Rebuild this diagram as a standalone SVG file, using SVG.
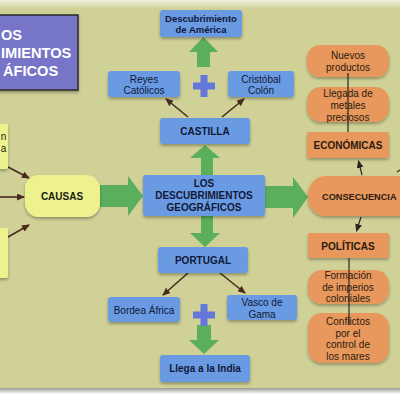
<svg xmlns="http://www.w3.org/2000/svg" width="400" height="400" viewBox="0 0 400 400">
<defs>
<linearGradient id="topfade" x1="0" y1="0" x2="0" y2="1"><stop offset="0" stop-color="#f0f1dd"/><stop offset="1" stop-color="#cfd197"/></linearGradient>
<linearGradient id="botfade" x1="0" y1="0" x2="0" y2="1"><stop offset="0" stop-color="#9a9a90"/><stop offset="1" stop-color="#ffffff"/></linearGradient>
<filter id="sh" x="-20%" y="-20%" width="140%" height="150%"><feDropShadow dx="0" dy="2" stdDeviation="1.5" flood-color="#000" flood-opacity="0.3"/></filter>
<marker id="ah" markerWidth="8" markerHeight="7" refX="7" refY="3.5" orient="auto" markerUnits="userSpaceOnUse"><path d="M0,0 L8,3.5 L0,7 Z" fill="#4a2a1c"/></marker>
<marker id="ahk" markerWidth="8" markerHeight="7" refX="7" refY="3.5" orient="auto" markerUnits="userSpaceOnUse"><path d="M0,0 L8,3.5 L0,7 Z" fill="#2a2620"/></marker>
<style>
text{font-family:"Liberation Sans",Arial,sans-serif;font-size:10px;text-anchor:middle}
.b{font-weight:bold}
.tt{fill:#fff;font-weight:bold;font-size:14.6px;text-anchor:start}
.blue{fill:#6a9be2;filter:url(#sh)}
.bt{fill:#101838}
.org{fill:#e8985c;filter:url(#sh)}
.ot{fill:#2a1a10}
.yel{fill:#eef28e;filter:url(#sh)}
.grn{fill:#5aae5c}
.plus{fill:#6478dc}
.br{stroke:#4a2a1c;stroke-width:1.6;fill:none;marker-end:url(#ah)}
.bk{stroke:#2a2620;stroke-width:1.2;fill:none}
</style>
</defs>
<rect x="0" y="0" width="400" height="400" fill="#ffffff"/>
<rect x="0" y="0" width="400" height="388" fill="#cfd197"/>
<rect x="0" y="0" width="400" height="9" fill="url(#topfade)"/>
<rect x="0" y="388" width="400" height="6" fill="url(#botfade)"/>

<g id="connectors">
<polygon class="grn" points="197,67 210,67 210,52 218,52 203.5,37 189,52 197,52"/>
<polygon class="grn" points="201,175 213,175 213,158 220,158 205,145 190,158 201,158"/>
<polygon class="grn" points="201,216 213,216 213,233 220,233 205,247 190,233 201,233"/>
<polygon class="grn" points="197,325 211,325 211,340 219,340 204,354 189,340 197,340"/>
<polygon class="grn" points="100,185 128,185 128,176 143,196 128,216 128,207 100,207"/>
<polygon class="grn" points="265,186 293,186 293,177 308,197 293,218 293,208 265,208"/>
<path class="br" d="M188,117 L166,99"/>
<path class="br" d="M222,117 L244,99"/>
<path class="br" d="M188,273 L163,295"/>
<path class="br" d="M220,273 L245,293"/>
<path class="br" d="M8,167 L29,178"/>
<path class="br" d="M0,197 L24,197"/>
<path class="br" d="M8,237 L29,225"/>
<path class="bk" d="M362,175 L358.5,161" marker-end="url(#ahk)"/>
<path class="bk" d="M361,217 L356.5,231" marker-end="url(#ahk)"/>
<path class="bk" d="M397,172 L400,170"/>
<path class="bk" d="M397,206 L400,208"/>
</g>

<g id="plus-top"><rect class="plus" x="193" y="82.5" width="22" height="7"/><rect class="plus" x="200.5" y="75" width="7" height="22"/></g>
<g id="plus-bottom"><rect class="plus" x="193" y="311.5" width="22" height="7"/><rect class="plus" x="200.5" y="304" width="7" height="22"/></g>

<g id="title">
<rect x="-2" y="15" width="80" height="75" fill="#7774c8" stroke="#2a2a2a" stroke-width="1.5" filter="url(#sh)"/>
<text class="tt" x="1" y="40">OS</text>
<text class="tt" x="1" y="58">IMIENTOS</text>
<text class="tt" x="3" y="76">ÁFICOS</text>
</g>

<g id="america"><rect class="blue" x="160" y="10" width="82" height="27" rx="3"/><text class="b bt" x="201" y="21.5" style="font-size:9.5px">Descubrimiento</text><text class="b bt" x="201" y="32.5" style="font-size:9.5px">de América</text></g>
<g id="reyes"><rect class="blue" x="108" y="71" width="72" height="26" rx="3"/><text class="bt" x="144" y="82.5">Reyes</text><text class="bt" x="144" y="93.5">Católicos</text></g>
<g id="colon"><rect class="blue" x="228" y="71" width="66" height="26" rx="3"/><text class="bt" x="261" y="82.5">Cristóbal</text><text class="bt" x="261" y="93.5">Colón</text></g>
<g id="castilla"><rect class="blue" x="160" y="118" width="90" height="26" rx="3"/><text class="b bt" x="205" y="135">CASTILLA</text></g>
<g id="descubrimientos"><rect class="blue" x="143" y="175" width="122" height="41" rx="3"/><text class="b bt" x="204" y="186.5">LOS</text><text class="b bt" x="204" y="198.5">DESCUBRIMIENTOS</text><text class="b bt" x="204" y="210.5">GEOGRÁFICOS</text></g>
<g id="portugal"><rect class="blue" x="158" y="247" width="90" height="26" rx="3"/><text class="b bt" x="203" y="264">PORTUGAL</text></g>
<g id="bordea"><rect class="blue" x="108" y="297" width="72" height="25" rx="3"/><text class="bt" x="144" y="313.5">Bordea África</text></g>
<g id="vasco"><rect class="blue" x="227" y="295" width="70" height="25" rx="3"/><text class="bt" x="262" y="305.5">Vasco de</text><text class="bt" x="262" y="317.5">Gama</text></g>
<g id="india"><rect class="blue" x="160" y="355" width="90" height="27" rx="3"/><text class="b bt" x="205" y="371.5">Llega a la India</text></g>

<g id="causas"><rect class="yel" x="25" y="175" width="75" height="42" rx="14"/><text class="b" x="62" y="200" fill="#1a1a10">CAUSAS</text></g>
<g id="causa-1"><rect class="yel" x="-10" y="124" width="18" height="45" rx="2"/><text x="3.5" y="140" fill="#1a1a10">n</text><text x="3.5" y="152" fill="#1a1a10">a</text></g>
<g id="causa-3"><rect class="yel" x="-10" y="228" width="18" height="50" rx="2"/></g>

<g id="nuevos"><rect class="org" x="307" y="45" width="82" height="32" rx="13"/><text class="ot" x="348" y="58.5">Nuevos</text><text class="ot" x="348" y="70.5">productos</text></g>
<g id="llegada"><rect class="org" x="307" y="87" width="82" height="35" rx="14"/><text class="ot" x="348" y="96.5">Llegada de</text><text class="ot" x="348" y="108.5">metales</text><text class="ot" x="348" y="120.5">preciosos</text></g>
<g id="economicas"><rect class="org" x="307" y="132" width="82" height="26" rx="2"/><text class="b ot" x="348" y="149">ECONÓMICAS</text></g>
<g id="consecuencias"><rect class="org" x="308" y="176" width="130" height="40" rx="18"/><text class="b ot" x="322" y="199.5" style="text-anchor:start;font-size:9.2px">CONSECUENCIA</text></g>
<g id="politicas"><rect class="org" x="308" y="233" width="81" height="25" rx="2"/><text class="b ot" x="348" y="249.5">POLÍTICAS</text></g>
<g id="formacion"><rect class="org" x="308" y="270" width="81" height="34" rx="14"/><text class="ot" x="348" y="278.5">Formación</text><text class="ot" x="348" y="290.5">de imperios</text><text class="ot" x="348" y="302">coloniales</text></g>
<g id="conflictos"><rect class="org" x="308" y="313" width="81" height="50" rx="14"/><text class="ot" x="348" y="325">Conflictos</text><text class="ot" x="348" y="336.5">por el</text><text class="ot" x="348" y="348">control de</text><text class="ot" x="348" y="359.5">los mares</text></g>

<g id="links">
<path class="bk" d="M348,73 L348,132"/>
<path class="bk" d="M349,258 L349,325"/>
</g>
</svg>
